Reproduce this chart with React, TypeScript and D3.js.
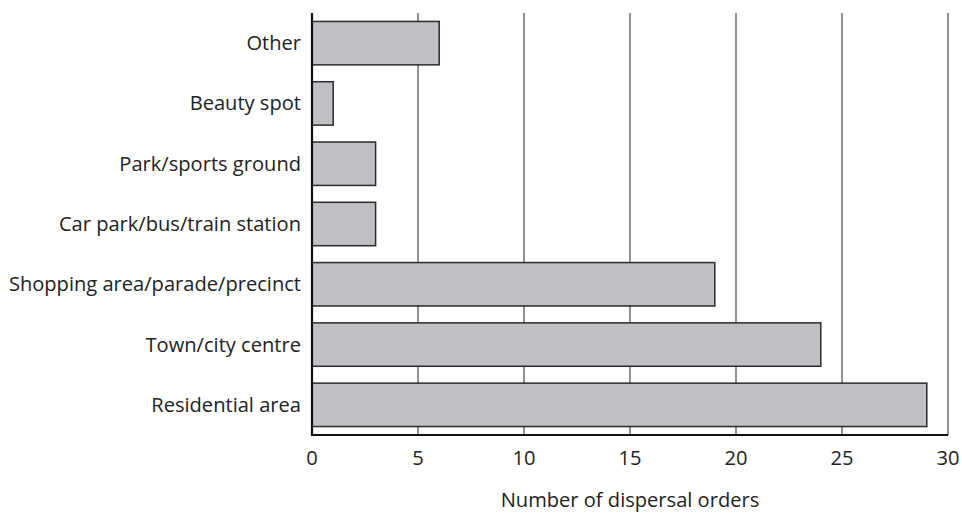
import React from "react";
import * as d3 from "d3";

const categories = [
  "Other",
  "Beauty spot",
  "Park/sports ground",
  "Car park/bus/train station",
  "Shopping area/parade/precinct",
  "Town/city centre",
  "Residential area",
];
const values = [6, 1, 3, 3, 19, 24, 29];
const xTicks = [0, 5, 10, 15, 20, 25, 30];
const xTitle = "Number of dispersal orders";

export default function App() {
  const W = 962, H = 513;
  const x = d3.scaleLinear().domain([0, 30]).range([312, 948]);
  const y = d3.scaleBand<string>().domain(categories).range([13, 435]).paddingInner(0.28).paddingOuter(0.14);
  const font = "'Open Sans', sans-serif";
  const fs = 20.1;
  return (
    <svg width={W} height={H} style={{ position: "absolute", left: 0, top: 0 }}>
      {xTicks.filter((t) => t > 0).map((t) => (
        <line key={t} x1={x(t)} x2={x(t)} y1={13} y2={435} stroke="#555" strokeWidth={1.3} />
      ))}
      {categories.map((c, i) => (
        <g key={c}>
          <rect x={x(0)} y={y(c)} width={x(values[i]) - x(0)} height={y.bandwidth()} fill="#bfc0c3" stroke="#2a2a2a" strokeWidth={1.5} />
          <text x={301} y={(y(c) as number) + y.bandwidth() / 2} dy="0.35em" textAnchor="end" fontFamily={font} fontSize={fs} fill="#222">{c}</text>
        </g>
      ))}
      <line x1={x(0)} x2={x(0)} y1={13} y2={436} stroke="#111" strokeWidth={2.2} />
      <line x1={x(0) - 1} x2={x(30)} y1={435} y2={435} stroke="#111" strokeWidth={2.2} />
      {xTicks.map((t) => (
        <text key={t} x={x(t)} y={458} dy="0.35em" textAnchor="middle" fontFamily={font} fontSize={fs} fill="#222">{t}</text>
      ))}
      <text x={x(15)} y={500} dy="0.35em" textAnchor="middle" fontFamily={font} fontSize={fs} fill="#222">{xTitle}</text>
    </svg>
  );
}
